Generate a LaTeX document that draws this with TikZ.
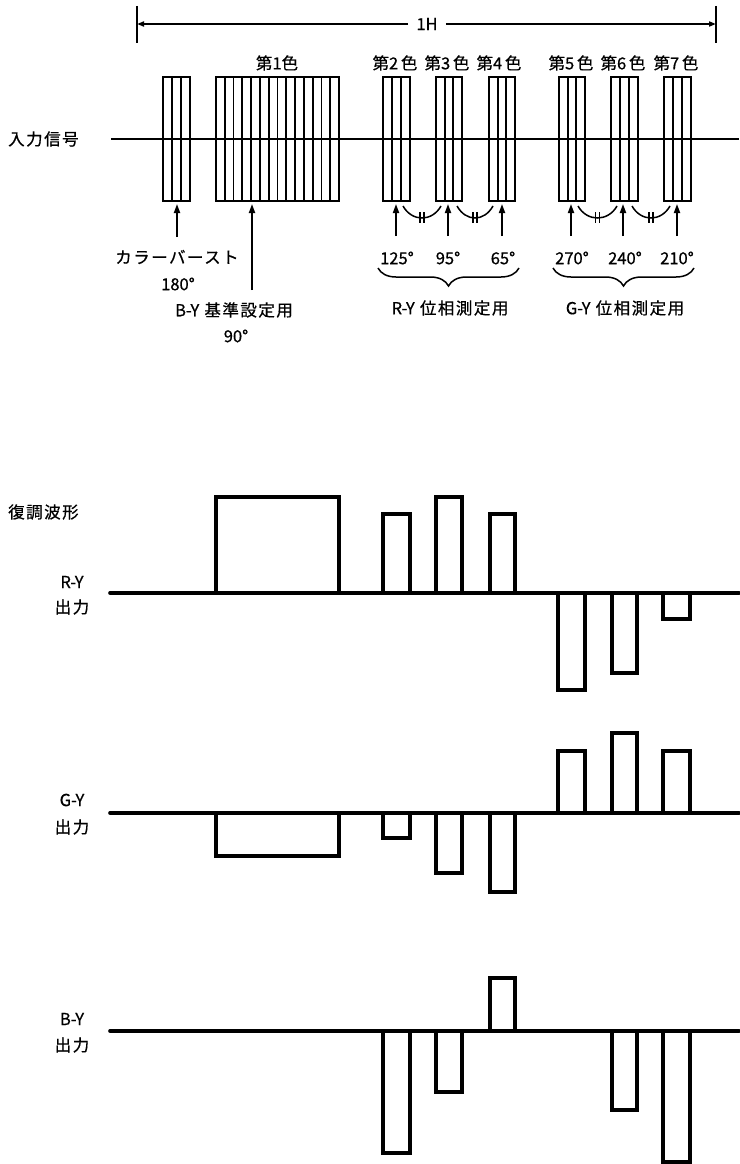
\documentclass[tikz,border=0pt]{standalone}
\usepackage{fontspec}
\newfontfamily\jp{Noto Sans CJK JP}[LetterSpace=9,FakeBold=0.6]
\newfontfamily\lt{Noto Sans CJK JP}[FakeBold=0.6]
\usetikzlibrary{arrows.meta,decorations.pathreplacing}
\begin{document}
\begin{tikzpicture}[x=1pt,y=-1pt,
  lbl/.style={font=\jp\fontsize{16.5}{17}\selectfont, inner sep=0pt, text=black},
  thinline/.style={line width=1.8pt},
  wave/.style={line width=3.6pt},
  uparrow/.style={line width=1.8pt, -{Triangle[length=9pt,width=6pt]}},
  hharrow/.style={line width=1.8pt, -{Triangle[length=7pt,width=5pt]}},
  arcline/.style={line width=1.5pt},
  bracestyle/.style={line width=1.5pt, decorate, decoration={brace, mirror, amplitude=18pt}}
]
\useasboundingbox (0,0) rectangle (739,1164);

% ---------- 1H dimension ----------
\draw[thinline] (137,6) -- (137,43);
\draw[thinline] (716,6) -- (716,43);
\coordinate (hL) at (137,24);
\coordinate (hR) at (716,24);
\node[lbl, fill=white, inner xsep=8pt, inner ysep=2pt] (h1) at (427,24) {\lt 1H};
\draw[hharrow] (h1.west) -- (hL);
\draw[hharrow] (h1.east) -- (hR);

% ---------- input signal ----------
\node[lbl, anchor=west] (in) at (8,139) {入力信号};

\newcommand\stripebox[3]{%
  \draw[thinline] (#1,77) rectangle (#2,201);
  \pgfmathtruncatemacro\nn{#3-1}
  \foreach \i in {1,...,\nn}{\draw[thinline] ({#1+\i*(#2-#1)/#3},77) -- ({#1+\i*(#2-#1)/#3},201);}
}
\stripebox{163}{190}{3}
\stripebox{216}{339}{14}
\stripebox{383}{410}{3}
\stripebox{436}{462}{3}
\stripebox{489}{515}{3}
\stripebox{559}{585}{3}
\stripebox{611}{638}{3}
\stripebox{664}{691}{3}
\draw[thinline] (111,139) -- (739,139);

% color labels
\node[lbl] (c1) at (277,63) {第{\lt 1}色};
\node[lbl] (c2) at (395,63) {第{\lt 2}\,色};
\node[lbl] (c3) at (447,63) {第{\lt 3}\,色};
\node[lbl] (c4) at (499,63) {第{\lt 4}\,色};
\node[lbl] (c5) at (571,63) {第{\lt 5}\,色};
\node[lbl] (c6) at (623,63) {第{\lt 6}\,色};
\node[lbl] (c7) at (676,63) {第{\lt 7}\,色};

% arrows
\coordinate (bt) at (177,204); \coordinate (bb) at (177,237);
\coordinate (ft) at (252,204); \coordinate (fb) at (252,290);
\draw[uparrow] (bb) -- (bt);
\draw[uparrow] (fb) -- (ft);
\foreach \x/\n in {396/a2,448/a3,502/a4,571/a5,623/a6,677/a7}{
  \coordinate (\n b) at (\x,236);
  \coordinate (\n t) at (\x,204);
  \draw[uparrow] (\n b) -- (\n t);
}

% equal-interval arcs
\foreach \a/\b in {403/441,457/493,578/617,632/670}{
  \pgfmathsetmacro\m{(\a+\b)/2}
  \draw[arcline] (\a,206) .. controls ({\a+9},222) and ({\b-9},222) .. (\b,206);
  \draw[arcline] ({\m-2},212) -- ({\m-2},223);
  \draw[arcline] ({\m+2},212) -- ({\m+2},223);
}

\node[lbl] (cb) at (177,257) {カラーバースト};
\node[lbl] (d180) at (178,284) {\lt 180°};
\node[lbl] (by) at (234,310) {{\lt B-Y} 基準設定用};
\node[lbl] (d90) at (236,336) {\lt 90°};

\node[lbl] (d125) at (397,258) {\lt 125°};
\node[lbl] (d95) at (448,258) {\lt 95°};
\node[lbl] (d65) at (503,258) {\lt 65°};
\node[lbl] (d270) at (572,258) {\lt 270°};
\node[lbl] (d240) at (625,258) {\lt 240°};
\node[lbl] (d210) at (677,258) {\lt 210°};

\draw[bracestyle] (378,268) -- (519,268);
\draw[bracestyle] (553,268) -- (694,268);
\node[lbl] (ry) at (450,308) {{\lt R-Y} 位相測定用};
\node[lbl] (gy) at (625,308) {{\lt G-Y} 位相測定用};

% ---------- demodulated waveforms ----------
\node[lbl, anchor=west] (dm) at (8,512) {復調波形};

\node[lbl] (rl) at (72,582) {\lt R-Y};
\node[lbl] (ro) at (72,607) {出力};
\node[lbl] (gl) at (72,800) {\lt G-Y};
\node[lbl] (go) at (72,827) {出力};
\node[lbl] (bl) at (72,1019) {\lt B-Y};
\node[lbl] (bo) at (72,1045) {出力};

% R-Y
\foreach \p/\q/\h in {216/339/497,383/410/514,436/462/497,490/515/514,558/585/690,612/637/673,663/690/619}{
  \draw[wave] (\p,593) rectangle (\q,\h);
}
\draw[wave, line cap=round] (110,593) -- (739,593);

% G-Y
\foreach \p/\q/\h in {216/339/856,383/410/838,436/462/873,490/515/892,558/585/751,612/637/733,663/690/751}{
  \draw[wave] (\p,813) rectangle (\q,\h);
}
\draw[wave, line cap=round] (110,813) -- (739,813);

% B-Y
\foreach \p/\q/\h in {383/410/1153,436/462/1092,490/515/978,612/637/1110,663/690/1162}{
  \draw[wave] (\p,1031) rectangle (\q,\h);
}
\draw[wave, line cap=round] (110,1031) -- (739,1031);
\end{tikzpicture}
\end{document}
